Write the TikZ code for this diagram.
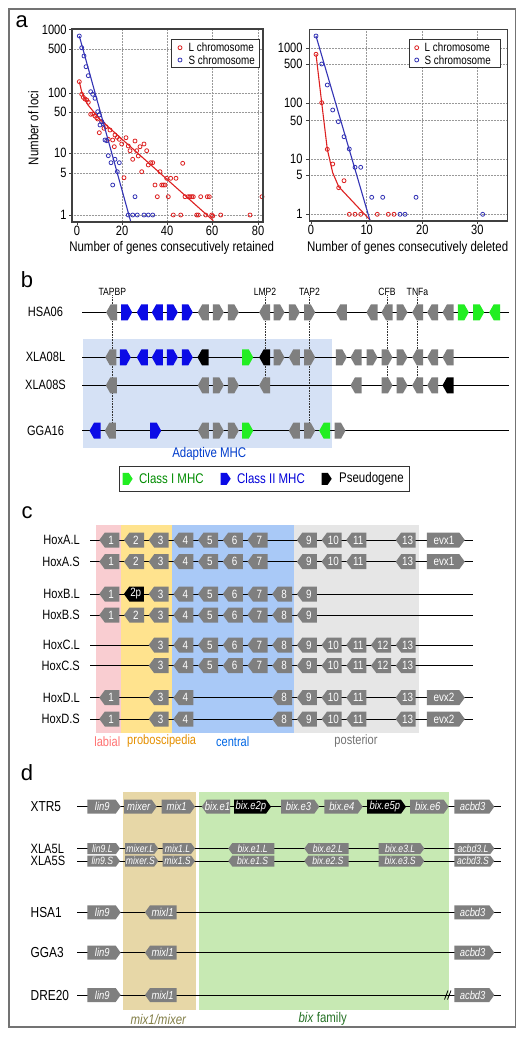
\documentclass[tikz,border=0pt]{standalone}
\usepackage{fontspec}
\setmainfont{Liberation Sans}[FakeStretch=0.82]
\newfontfamily\plainf{Liberation Sans}
\definecolor{gg}{HTML}{7F7F7F}
\definecolor{gb}{HTML}{0B0BE6}
\definecolor{ggr}{HTML}{22EE22}
\definecolor{shb}{HTML}{D5E1F5}
\definecolor{pk}{HTML}{F9CDD1}
\definecolor{yl}{HTML}{FFE38E}
\definecolor{lb}{HTML}{A9C9F7}
\definecolor{lgy}{HTML}{E6E6E6}
\definecolor{tanb}{HTML}{E7D7A7}
\definecolor{lgr}{HTML}{C7E9B3}
\definecolor{pr}{HTML}{DD2222}
\definecolor{pbl}{HTML}{3333B5}
\newcommand\hoxf{\fontsize{12}{12}\selectfont}
\newcommand\dgf{\fontsize{11.5}{12}\selectfont\itshape}
\newcommand\dsf{\fontsize{10.5}{11}\selectfont\itshape}
% gene: name, dir (R/L), xc, y, w, h, fill, text
\newcommand\gene[8]{%
  \if#2R
    \fill[fill=#7] ({#3-#5/2},{#4-#6/2}) -- ({#3+#5/2-\gd},{#4-#6/2}) -- ({#3+#5/2},{#4}) -- ({#3+#5/2-\gd},{#4+#6/2}) -- ({#3-#5/2},{#4+#6/2}) -- cycle;
    \node[gtxt] (#1) at ({#3-\gd/3},{#4}) {#8};
  \else
    \fill[fill=#7] ({#3-#5/2},{#4}) -- ({#3-#5/2+\gd},{#4-#6/2}) -- ({#3+#5/2},{#4-#6/2}) -- ({#3+#5/2},{#4+#6/2}) -- ({#3-#5/2+\gd},{#4+#6/2}) -- cycle;
    \node[gtxt] (#1) at ({#3+\gd/3},{#4}) {#8};
  \fi}
\tikzset{
  gtxt/.style={inner sep=0pt, text=white},
  plab/.style={inner sep=0pt, font=\plainf\fontsize{22}{24}\selectfont},
  gridln/.style={densely dotted, draw=black!40, line width=0.5pt},
  frm/.style={draw=black!75, line width=1.3pt},
  tklab/.style={inner sep=0pt, font=\fontsize{13.5}{15}\selectfont},
  axt/.style={inner sep=0pt, font=\fontsize{14}{16}\selectfont},
  legt/.style={inner sep=0pt, anchor=west, font=\fontsize{12}{14}\selectfont},
  rdot/.style={draw=pr, line width=0.8pt},
  bdot/.style={draw=pbl, line width=0.8pt},
  rln/.style={draw=pr, line width=1.1pt},
  bln/.style={draw=pbl, line width=1.1pt},
  chrom/.style={draw=black, line width=1pt},
  rowlab/.style={inner sep=0pt, font=\fontsize{13.5}{15}\selectfont},
  smlab/.style={inner sep=0pt, font=\fontsize{10.5}{12}\selectfont},
  dotln/.style={densely dotted, draw=black!80, line width=0.6pt},
  blab/.style={inner sep=0pt, font=\fontsize{13.5}{15}\selectfont},
}
\begin{document}
\begin{tikzpicture}[x=1pt,y=-1pt]
\useasboundingbox (0,0) rectangle (526,1038);
\fill[white] (0,0) rectangle (526,1038);
\draw[draw=black!55, line width=1.1pt] (9,9) rectangle (515.5,1027);

\node[plab] (pa) at (21.7,21.7) {a};
\node[plab] (pb) at (27,279.5) {b};
\node[plab] (pc) at (27,513) {c};
\node[plab] (pd) at (27,772.5) {d};

%================ panel a, left plot
\foreach \x in {122,167,212,258} \draw[gridln] (\x,29) -- (\x,222);
\foreach \y in {29.7,49,93,112,153,173,215} \draw[gridln] (72,\y) -- (263,\y);
\foreach \y/\t in {29.7/1000,49/500,93/100,112/50,153/10,173/5,215/1} {
  \draw[frm, line width=0.8pt] (69,\y) -- (72,\y);
  \node[tklab, anchor=east] (ly\t) at (66.7,\y) {\t};}
\foreach \x/\t in {77/0,122/20,167/40,212/60,258/80} {
  \draw[frm, line width=0.8pt] (\x,222) -- (\x,225);
  \node[tklab] (lx\t) at (\x,231) {\t};}
\node[axt] (lxt) at (171.7,248.3) {Number of genes consecutively retained};
\node[axt, rotate=90] (lyt) at (33.3,128) {Number of loci};
\foreach \x/\y in {79.3/81.7, 81.7/94.3, 83.3/97.3, 85/99, 86.7/100, 88.3/102.3, 90.7/114.3, 92.7/114, 95/116, 96.7/117.7, 97.7/119, 99.3/132.7, 101.7/121.7, 104/128.3, 106/126.7, 108.3/139.3, 110/130, 112.7/140, 114.3/146.7, 115/135, 117.3/137.3, 119.3/139.3, 121.7/144, 124/177.7, 126/137.7, 128.3/146, 130/150.7, 132.7/159.3, 135/141, 136.7/150.7, 138.3/156, 140/146.7, 141.7/171.7, 144/144, 146.7/150.7, 148.3/165, 150.7/162.7, 152.7/162.7, 155/185, 157.3/196.7, 160/171.7, 161.7/185, 163.3/185, 165/185, 166.7/178.3, 168.3/196.7, 170.7/178.3, 173.3/215, 176/178.3, 180.7/215, 182.7/163.3, 185/196.7, 188.3/196.7, 190/196.7, 191.7/196.7, 193.3/196.7, 196.7/215, 198.3/215, 200.7/196.7, 205.7/215, 207.3/196.7, 209.3/196.7, 211.7/215, 212.7/216, 220.7/215, 250/215, 262/196.7}
  \draw[rdot] (\x,\y) circle (2);
\foreach \x/\y in {79.3/36, 81.7/47.7, 84/56, 86/66.7, 88.3/75.7, 90.7/91.7, 92.7/94.3, 95/98.3, 97.7/111.7, 99.3/115, 101.7/121.7, 100/125, 103.3/124, 105/140, 106.7/140.7, 108.3/155.7, 111/162.7, 115/159.3, 117.3/171.7, 119.3/162.7, 112.7/185, 135/196.7, 128.3/215, 132.7/215, 137.3/215, 144/215, 148.3/215, 152.7/215}
  \draw[bdot] (\x,\y) circle (2);
\draw[rln] (79.3,81.7) -- (82,93) -- (88,105) -- (100,119.5) -- (213.3,220.7);
\draw[bln] (79.3,36) -- (130.7,221.5);
\draw[frm] (72,29) rectangle (263,222);
\draw[fill=white, draw=black!80, line width=0.8pt] (171.7,39) rectangle (259.5,67);
\draw[rdot] (180,47.7) circle (2);
\draw[bdot] (180,60) circle (2);
\node[legt] (ll1) at (188.5,47.7) {L chromosome};
\node[legt] (ll2) at (188.5,60) {S chromosome};

%================ panel a, right plot
\foreach \x in {366.7,422.3,477.3} \draw[gridln] (\x,29.3) -- (\x,221);
\foreach \y in {48.3,64.3,103.3,120.7,159.3,175,214.3} \draw[gridln] (309.3,\y) -- (507.3,\y);
\foreach \y/\t in {48.3/1000,64.3/500,103.3/100,120.7/50,159.3/10,175/5,214.3/1} {
  \draw[frm, line width=0.8pt] (306.3,\y) -- (309.3,\y);
  \node[tklab, anchor=east] (ry\t) at (302.7,\y) {\t};}
\foreach \x/\t in {311/0,366.7/10,422.3/20,477.3/30} {
  \draw[frm, line width=0.8pt] (\x,221) -- (\x,224);
  \node[tklab] (rx\t) at (\x,230) {\t};}
\node[axt] (rxt) at (407.7,248.3) {Number of genes consecutively deleted};
\foreach \x/\y in {316/54.3, 321.7/102.7, 327.3/149.3, 332.7/164, 344/180.7, 338.7/187.7, 349.3/214.3, 355/214.3, 360.7/214.3, 377.3/214.3, 388.3/214.3, 394/214.3}
  \draw[rdot] (\x,\y) circle (2);
\foreach \x/\y in {316/36, 321.7/64, 327.3/85, 332.7/110, 338.3/121.7, 344/136.7, 349.3/149, 355/167.3, 360.7/167.3, 371.7/197.3, 382.7/197.3, 416/197.3, 400/214.3, 405/214.3, 482.7/214.3}
  \draw[bdot] (\x,\y) circle (2);
\draw[rln] (316,54.3) -- (321.7,102.7) -- (327.3,149.3) -- (332.7,172.7) -- (338.7,186.7) -- (370,220);
\draw[bln] (316,36) -- (370,220.5);
\draw[frm] (309.3,29.3) rectangle (507.3,221);
\draw[fill=white, draw=black!80, line width=0.8pt] (409,39) rectangle (500,67);
\draw[rdot] (416.7,47.7) circle (2);
\draw[bdot] (416.7,60) circle (2);
\node[legt] (rl1) at (424.5,47.7) {L chromosome};
\node[legt] (rl2) at (424.5,60) {S chromosome};

%================ panel b
\def\gd{4.5}
\fill[shb] (83.3,339) rectangle (332.3,447.7);
\node[rowlab] (bhsa) at (45.5,312.3) {HSA06};
\node[rowlab] (bxl) at (45.5,357.3) {XLA08L};
\node[rowlab] (bxs) at (45.5,385) {XLA08S};
\node[rowlab] (bgga) at (45.5,430.7) {GGA16};
\node[smlab] (tapbp) at (112.3,291.5) {TAPBP};
\node[smlab] (lmp2) at (265,291.5) {LMP2};
\node[smlab] (tap2) at (309.5,291.5) {TAP2};
\node[smlab] (cfb) at (387,291.5) {CFB};
\node[smlab] (tnfa) at (417.5,291.5) {TNFa};
\coordinate (tapbpE) at (112.3,430.7);
\coordinate (lmp2E) at (265,385);
\coordinate (tap2E) at (309.5,430.7);
\coordinate (cfbE) at (387,385);
\coordinate (tnfaE) at (417.5,385);
\draw[dotln] (tapbp.south) -- (tapbpE);
\draw[dotln] (lmp2.south) -- (lmp2E);
\draw[dotln] (tap2.south) -- (tap2E);
\draw[dotln] (cfb.south) -- (cfbE);
\draw[dotln] (tnfa.south) -- (tnfaE);
\foreach \r/\y in {h/312.3, l/357.3, s/385.3, g/430.7} {
  \coordinate (\r S) at (82,\y);
  \coordinate (\r E) at (509,\y);
  \draw[chrom] (\r S) -- (\r E);}
\foreach \x/\dr/\cl [count=\n] in {111.7/L/gg, 126.7/R/gb, 142.3/L/gb, 157.3/L/gb, 172.3/R/gb, 187.3/R/gb, 203.3/L/gg, 218.3/R/gg, 233.3/R/gg, 264.7/L/gg, 279/R/gg, 294.3/R/gg, 309.7/R/gg, 341.3/L/gg, 372/L/gg, 387/L/gg, 402/R/gg, 417.7/L/gg, 432.7/L/gg, 448/L/gg, 463.3/R/ggr, 478.7/R/ggr, 494.7/L/ggr}
  {\gene{bh\n}{\dr}{\x}{312.3}{11}{16}{\cl}{}}
\foreach \x/\dr/\cl [count=\n] in {110.8/L/gg, 125.3/R/gb, 142.3/L/gb, 157.3/L/gb, 172.3/R/gb, 187.3/R/gb, 203/L/black, 247.7/R/ggr, 264.7/L/black, 279/R/gg, 294.3/L/gg, 309.7/R/gg, 341.3/R/gg, 356/L/gg, 372/R/gg, 387/R/gg, 402/R/gg, 417.7/L/gg, 432.7/L/gg, 448/L/gg}
  {\gene{bl\n}{\dr}{\x}{357.3}{11}{16}{\cl}{}}
\foreach \x/\dr/\cl [count=\n] in {111.3/L/gg, 203.3/L/gg, 218.3/R/gg, 233.3/R/gg, 264.7/L/gg, 356/L/gg, 387/R/gg, 402/R/gg, 417.7/L/gg, 432.7/L/gg, 448/L/black}
  {\gene{bs\n}{\dr}{\x}{385.3}{11}{16}{\cl}{}}
\foreach \x/\dr/\cl [count=\n] in {95/L/gb, 110.3/L/gg, 155.7/R/gb, 203.3/L/gg, 218.3/R/gg, 233.3/R/gg, 247.7/R/ggr, 294.3/L/gg, 309.7/R/gg, 324.7/L/ggr, 340/R/gg}
  {\gene{bg\n}{\dr}{\x}{430.7}{11}{16}{\cl}{}}
\node[inner sep=0pt, text=blue!70!cyan!80!black, font=\fontsize{14}{16}\selectfont] (adapt) at (209.3,454) {Adaptive MHC};
\draw[fill=white, draw=black!80, line width=0.8pt] (119.3,466.7) rectangle (409,491);
\def\gd{4}
\gene{lg1}{R}{127.7}{478.8}{10}{12}{ggr}{}
\gene{lg2}{R}{225.7}{478.8}{10}{12}{gb}{}
\gene{lg3}{R}{326.7}{478.8}{10}{12}{black}{}
\node[legt, font=\fontsize{14}{16}\selectfont, text=green!55!black] (lt1) at (139,478.8) {Class I MHC};
\node[legt, font=\fontsize{14}{16}\selectfont, text=blue!85!black] (lt2) at (237,478.8) {Class II MHC};
\node[legt, font=\fontsize{14}{16}\selectfont] (lt3) at (339,478.8) {Pseudogene};

%================ panel c
\fill[pk] (95.7,525) rectangle (120.7,733.3);
\fill[yl] (120.7,525) rectangle (172,733.3);
\fill[lb] (172,525) rectangle (294,733.3);
\fill[lgy] (294,525) rectangle (418.7,733.3);
\node[blab, text=red!55!white] (clab) at (107.3,741.5) {labial};
\node[blab, text=orange!75!yellow!90!black] (cpro) at (161.7,741.5) {proboscipedia};
\node[blab, text=blue!55!cyan!90!black] (ccen) at (232.7,741.5) {central};
\node[blab, text=black!55] (cpos) at (356,741.5) {posterior};
\foreach \r/\y/\t in {aL/540/HoxA.L, aS/561.7/HoxA.S, bL/594/HoxB.L, bS/615/HoxB.S, cL/645/HoxC.L, cS/665.7/HoxC.S, dL/697.7/HoxD.L, dS/719/HoxD.S} {
  \node[rowlab, anchor=east] (lab\r) at (80,\y) {\t};
  \coordinate (\r S) at (90,\y);
  \coordinate (\r E) at (472.7,\y);
  \draw[chrom] (\r S) -- (\r E);}
\def\gd{5.5}
\foreach \r/\y in {aL/540, aS/561.7} {
  \foreach \k in {1,2,3,4,5,6,7,9,10,11,13} {
    \pgfmathsetmacro\xx{109.3+(\k-1)*24.7}
    \gene{h\r\k}{L}{\xx}{\y}{20}{15}{gg}{\hoxf\k}}
  \gene{h\r evx}{R}{445.8}{\y}{38}{15}{gg}{\hoxf evx1}}
\foreach \k in {1,3,4,5,6,7,8,9} {
  \pgfmathsetmacro\xx{109.3+(\k-1)*24.7}
  \gene{hbL\k}{L}{\xx}{594}{20}{15}{gg}{\hoxf\k}}
\gene{hbL2}{L}{133.9}{594}{20}{15}{black}{\hoxf 2p}
\foreach \k in {1,2,3,4,5,6,7,8,9} {
  \pgfmathsetmacro\xx{109.3+(\k-1)*24.7}
  \gene{hbS\k}{L}{\xx}{615}{20}{15}{gg}{\hoxf\k}}
\foreach \r/\y in {cL/645, cS/665.7} {
  \foreach \k in {3,4,5,6,7,8,9,10,11,12,13} {
    \pgfmathsetmacro\xx{109.3+(\k-1)*24.7}
    \gene{h\r\k}{L}{\xx}{\y}{20}{15}{gg}{\hoxf\k}}}
\foreach \r/\y in {dL/697.7, dS/719} {
  \foreach \k in {1,3,4,8,9,10,11,13} {
    \pgfmathsetmacro\xx{109.3+(\k-1)*24.7}
    \gene{h\r\k}{L}{\xx}{\y}{20}{15}{gg}{\hoxf\k}}
  \gene{h\r evx}{R}{445.8}{\y}{38}{15}{gg}{\hoxf evx2}}

%================ panel d
\fill[tanb] (122.7,791.7) rectangle (196,1010);
\fill[lgr] (198.7,791.7) rectangle (448.7,1010);
\node[blab, font=\fontsize{14}{16}\selectfont\itshape, text=yellow!45!black] (dmix) at (158.3,1019.3) {mix1/mixer};
\node[blab, font=\fontsize{14}{16}\selectfont, text=green!35!black!85] (dbix) at (322.7,1019.3) {\textit{bix} family};
\foreach \r/\y/\t/\fs in {x/806.7/XTR5/14.5, l/848.5/XLA5L/13.5, s/861/XLA5S/13.5, h/912.3/HSA1/14.5, g/952.7/GGA3/14.5, d/995/DRE20/14.5} {
  \node[rowlab, anchor=west, font=\fontsize{\fs}{16}\selectfont] (dlab\r) at (30.5,\y) {\t};
  \coordinate (d\r S) at (77.3,\y);
  \coordinate (d\r E) at (501,\y);
  \draw[chrom] (d\r S) -- (d\r E);}
\def\gd{5}
\foreach \x/\w/\dr/\cl/\t [count=\n] in {104/33.4/R/gg/lin9, 140.35/32.7/R/gg/mixer, 178.35/33.3/R/gg/mix1, 215.85/28.3/L/gg/bix.e1, 252.5/37/R/black/bix.e2p, 300.15/38.3/R/gg/bix.e3, 343.5/38.4/R/gg/bix.e4, 386.5/39/R/black/bix.e5p, 429.35/38.7/R/gg/bix.e6, 474.3/40/R/gg/acbd3}
  {\gene{dx\n}{\dr}{\x}{806.7}{\w}{14}{\cl}{\dgf\t}}
\def\gd{4}
\foreach \r/\y/\sx in {l/848.5/L, s/861/S} {
  \foreach \x/\w/\dr/\t [count=\n] in {103.65/32.7/R/lin9, 141.65/33.3/R/mixer, 178.85/32.3/R/mix1, 251.3/46/L/bix.e1, 326.5/44.4/L/bix.e2, 401.5/45.6/R/bix.e3, 474.3/40/R/acbd3}
    {\gene{d\r\n}{\dr}{\x}{\y}{\w}{11}{gg}{\dsf\t.\sx}}}
\def\gd{5}
\foreach \r/\y in {h/912.3, g/952.7, d/995} {
  \gene{d\r1}{R}{104}{\y}{33.4}{14}{gg}{\dgf lin9}
  \gene{d\r2}{L}{160.85}{\y}{31.7}{14}{gg}{\dgf mixl1}
  \gene{d\r3}{R}{474.3}{\y}{40}{14}{gg}{\dgf acbd3}}
\draw[line width=0.8pt] (444.5,999.5) -- (448,990.5);
\draw[line width=0.8pt] (447.5,999.5) -- (451,990.5);
\end{tikzpicture}
\end{document}
